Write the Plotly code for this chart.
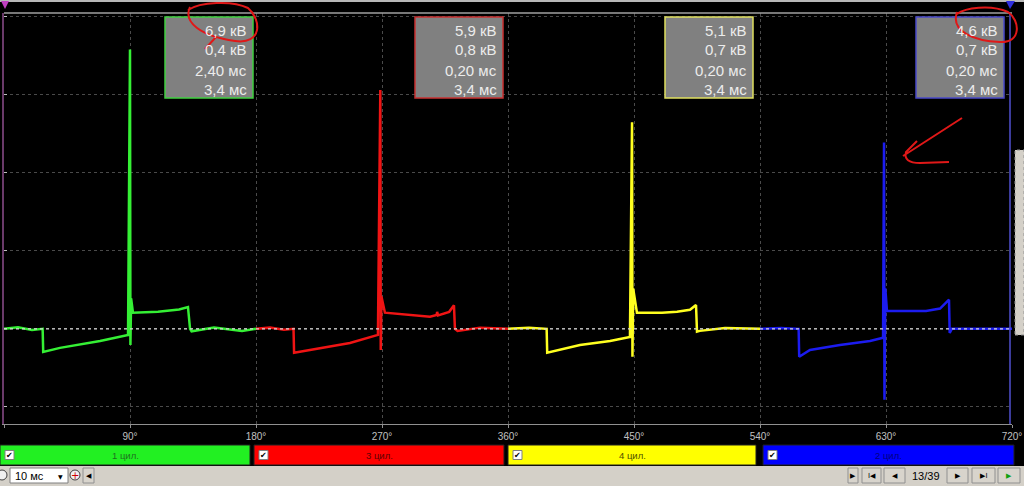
import plotly.graph_objects as go

# ---------------- data ----------------
cylinder_names = ["1 цил.", "3 цил.", "4 цил.", "2 цил."]

cyl1_deg = [0, 10, 20, 27.6, 28.0, 40, 68.6, 88.6, 90.0, 90.3, 90.8, 92.1, 110, 125, 131.4, 132.9, 134, 150, 170, 180]
cyl1_kv = [0.0, 0.04, -0.03, 0.0, -0.57, -0.47, -0.30, -0.15, 6.9, -0.40, 0.75, 0.40, 0.42, 0.48, 0.54, 0.0, -0.06, 0.03, -0.05, 0.0]

cyl3_deg = [180, 190, 200, 206.8, 207.2, 225.7, 247.1, 267.1, 268.8, 269.1, 269.6, 272.1, 290, 304.3, 309.0, 309.4, 310, 318, 321.4, 322.1, 324, 340, 360]
cyl3_kv = [0.0, 0.03, -0.02, 0.0, -0.59, -0.47, -0.35, -0.15, 5.9, -0.52, 0.8, 0.40, 0.34, 0.30, 0.34, 0.42, 0.33, 0.42, 0.58, 0.0, -0.05, 0.03, 0.0]

cyl4_deg = [360, 375, 387.6, 388.0, 411.4, 432.9, 447.1, 448.6, 448.9, 449.4, 452.1, 470, 480.7, 490, 494.3, 495.0, 497, 515, 540]
cyl4_kv = [0.0, 0.03, 0.0, -0.59, -0.40, -0.30, -0.20, 5.1, -0.69, 1.0, 0.40, 0.40, 0.42, 0.47, 0.59, -0.07, -0.05, 0.02, 0.0]

cyl2_deg = [540, 555, 567.6, 568.0, 575.7, 597.1, 618.6, 627.9, 628.6, 628.9, 629.5, 630.7, 658.6, 668.6, 675.0, 675.5, 677, 700, 720]
cyl2_kv = [0.0, 0.02, 0.0, -0.69, -0.52, -0.40, -0.30, -0.22, 4.6, -1.75, 1.0, 0.44, 0.44, 0.50, 0.72, -0.10, 0.0, 0.0, 0.0]

peak_kv_text = ["6,9 кВ", "5,9 кВ", "5,1 кВ", "4,6 кВ"]
burn_kv_text = ["0,4 кВ", "0,8 кВ", "0,7 кВ", "0,7 кВ"]
time1_text = ["2,40 мс", "0,20 мс", "0,20 мс", "0,20 мс"]
time2_text = ["3,4 мс", "3,4 мс", "3,4 мс", "3,4 мс"]

x_tick_vals = [0, 90, 180, 270, 360, 450, 540, 630, 720]
x_tick_text = ["0°", "90°", "180°", "270°", "360°", "450°", "540°", "630°", "720°"]

# ---------------- style ----------------
W, H = 1024, 486          # reference pixel grid
FIG_W = 1034              # rendered width (page is shown about 1% narrower)
trace_colors = ["#35f035", "#f01414", "#ffff20", "#1c1cf0"]
bar_colors = ["#22f022", "#ff0000", "#ffff00", "#0000ff"]
bar_text_colors = ["#207020", "#600000", "#505000", "#000080"]
box_border = ["#40d040", "#c83030", "#e0e060", "#4848c8"]


def px(x):
    return x / W


def py(y):
    return 1 - y / H


fig = go.Figure()
series = [(cyl1_deg, cyl1_kv), (cyl3_deg, cyl3_kv), (cyl4_deg, cyl4_kv), (cyl2_deg, cyl2_kv)]
for (d, v), c, n in zip(series, trace_colors, cylinder_names):
    fig.add_trace(go.Scatter(x=d, y=v, mode="lines", line=dict(color=c, width=2.5),
                             name=n, showlegend=False, hoverinfo="skip"))

shapes = []
annotations = []

# top window strip and border line
shapes.append(dict(type="rect", xref="paper", yref="paper", x0=0, x1=1, y0=py(2), y1=1,
                   fillcolor="#b8b8b8", line=dict(width=0), layer="below"))
shapes.append(dict(type="line", xref="paper", yref="paper", x0=px(4), x1=px(1012), y0=py(13), y1=py(13),
                   line=dict(color="#a0a0a0", width=1.5)))
# right blue border
shapes.append(dict(type="line", xref="paper", yref="paper", x0=px(1010), x1=px(1010), y0=py(13), y1=py(424),
                   line=dict(color="#5050d0", width=1.5)))
# markers
shapes.append(dict(type="path", xref="paper", yref="paper",
                   path=f"M {px(1)} {py(1)} L {px(9)} {py(1)} L {px(5)} {py(9)} Z",
                   fillcolor="#c040c0", line=dict(width=0)))
shapes.append(dict(type="path", xref="paper", yref="paper",
                   path=f"M {px(1006)} {py(1)} L {px(1015)} {py(1)} L {px(1010)} {py(9)} Z",
                   fillcolor="#3030e0", line=dict(width=0)))
# right scroll panel
shapes.append(dict(type="rect", xref="paper", yref="paper", x0=px(1015), x1=1, y0=py(335), y1=py(150),
                   fillcolor="#d4d0c8", line=dict(color="#909090", width=1, dash="dot")))

# zero line (dotted white)
shapes.append(dict(type="line", xref="x", yref="y", x0=0, x1=720, y0=0, y1=0,
                   line=dict(color="#d8d8d8", width=1.2, dash="dot"), layer="above"))

# info boxes
box_left = [165, 415, 665, 916]
for i in range(4):
    x0, x1 = box_left[i], box_left[i] + 88
    shapes.append(dict(type="rect", xref="paper", yref="paper", x0=px(x0), x1=px(x1), y0=py(98), y1=py(17),
                       fillcolor="#808080", line=dict(color=box_border[i], width=1.5)))
    for txt, yy in zip([peak_kv_text[i], burn_kv_text[i], time1_text[i], time2_text[i]], [30, 50, 70, 89]):
        annotations.append(dict(xref="paper", yref="paper", x=px(x1 - 4), y=py(yy), text=txt,
                                showarrow=False, xanchor="right", yanchor="middle",
                                font=dict(family="Liberation Sans", size=15, color="#ececec")))

# red hand-drawn marks
def pth(points):
    s = ""
    for cmd, pts in points:
        s += cmd + " " + " ".join(f"{px(a)} {py(b)}" for a, b in pts) + " "
    return s.strip()

circle1 = pth([("M", [(190, 7)]),
               ("C", [(183, 22), (200, 36), (235, 41)]),
               ("C", [(262, 45), (262, 20), (248, 8)]),
               ("C", [(232, 0), (200, 2), (188, 10)]),
               ("M", [(216, 37)]), ("L", [(205, 49)])])
circle2 = pth([("M", [(957, 12)]),
               ("C", [(950, 32), (975, 41), (1000, 42)]),
               ("C", [(1022, 43), (1020, 20), (1008, 12)]),
               ("C", [(990, 4), (965, 8), (957, 14)])])
arrow = pth([("M", [(962, 118)]), ("L", [(903, 156)]),
             ("M", [(917, 141)]), ("L", [(906, 152)]),
             ("Q", [(903, 163), (920, 163)]), ("L", [(949, 162)])])
for p in [circle1, circle2, arrow]:
    shapes.append(dict(type="path", xref="paper", yref="paper", path=p,
                       line=dict(color="#e01818", width=2)))

# bottom cylinder bars
bar_x = [(0, 250), (254, 504), (508, 756), (763, 1014)]
for i, (a, b) in enumerate(bar_x):
    shapes.append(dict(type="rect", xref="paper", yref="paper", x0=px(a), x1=px(b), y0=py(465), y1=py(445),
                       fillcolor=bar_colors[i], line=dict(color="#202020", width=1)))
    shapes.append(dict(type="rect", xref="paper", yref="paper", x0=px(a + 5), x1=px(a + 14), y0=py(459.5), y1=py(450.5),
                       fillcolor="#ffffff", line=dict(color="#808080", width=1)))
    annotations.append(dict(xref="paper", yref="paper", x=px(a + 9.5), y=py(455), text="✔", showarrow=False,
                            xanchor="center", yanchor="middle",
                            font=dict(family="DejaVu Sans", size=8, color="#000000")))
    annotations.append(dict(xref="paper", yref="paper", x=px((a + b) / 2), y=py(455), text=cylinder_names[i],
                            showarrow=False, xanchor="center", yanchor="middle",
                            font=dict(family="Liberation Sans", size=9.5, color=bar_text_colors[i])))

# bottom toolbar
shapes.append(dict(type="rect", xref="paper", yref="paper", x0=0, x1=1, y0=0, y1=py(466),
                   fillcolor="#d4d0c8", line=dict(width=0)))
shapes.append(dict(type="circle", xref="paper", yref="paper", x0=px(-3), x1=px(7), y0=py(480), y1=py(470),
                   fillcolor="#f0f0f0", line=dict(color="#404040", width=1)))
shapes.append(dict(type="rect", xref="paper", yref="paper", x0=px(10), x1=px(68), y0=py(483), y1=py(468),
                   fillcolor="#ffffff", line=dict(color="#808080", width=1)))
annotations.append(dict(xref="paper", yref="paper", x=px(13), y=py(475.5), text="10 мс", showarrow=False,
                        xanchor="left", yanchor="middle", font=dict(family="Liberation Sans", size=11, color="#000")))
annotations.append(dict(xref="paper", yref="paper", x=px(60), y=py(476), text="▼", showarrow=False,
                        xanchor="center", yanchor="middle", font=dict(family="DejaVu Sans", size=6, color="#000")))
shapes.append(dict(type="circle", xref="paper", yref="paper", x0=px(70), x1=px(80), y0=py(480), y1=py(470),
                   fillcolor="#f0f0f0", line=dict(color="#404040", width=1)))
annotations.append(dict(xref="paper", yref="paper", x=px(75), y=py(475), text="+", showarrow=False,
                        xanchor="center", yanchor="middle", font=dict(family="DejaVu Sans", size=10, color="#d00000")))

buttons = [(83, 94, "◀", "#000"), (848, 858, "▶", "#000"), (862, 881, "I◀", "#000"), (884, 905, "◀", "#000"),
           (947, 968, "▶", "#000"), (972, 995, "▶I", "#000"), (998, 1020, "▶", "#10a010")]
for a, b, t, c in buttons:
    shapes.append(dict(type="rect", xref="paper", yref="paper", x0=px(a), x1=px(b), y0=py(483), y1=py(468),
                       fillcolor="#d8d4cc", line=dict(color="#909090", width=1)))
    annotations.append(dict(xref="paper", yref="paper", x=px((a + b) / 2), y=py(475.5), text=t, showarrow=False,
                            xanchor="center", yanchor="middle", font=dict(family="DejaVu Sans", size=7, color=c)))
annotations.append(dict(xref="paper", yref="paper", x=px(926), y=py(475.5), text="13/39", showarrow=False,
                        xanchor="center", yanchor="middle", font=dict(family="Liberation Sans", size=11, color="#000")))

fig.update_layout(
    width=FIG_W, height=H, autosize=False,
    margin=dict(l=0, r=0, t=0, b=0),
    paper_bgcolor="#000000", plot_bgcolor="#000000",
    shapes=shapes, annotations=annotations,
    showlegend=False,
    xaxis=dict(domain=[px(4), px(1012)], range=[0, 720], tickmode="array", tickvals=x_tick_vals,
               ticktext=x_tick_text, showgrid=True, gridcolor="#4a4a4a", griddash="dot", gridwidth=1,
               zeroline=False, showline=True, linecolor="#909090", linewidth=1, ticks="outside",
               ticklen=3, tickcolor="#909090",
               tickfont=dict(family="Liberation Sans", size=10, color="#c0c0c0")),
    yaxis=dict(domain=[py(424), py(13)], range=[-2.35, 7.80], dtick=1.93, tick0=0, showgrid=True,
               gridcolor="#4a4a4a", griddash="dot", zeroline=False, showticklabels=False,
               showline=True, linecolor="#6a3a6a", linewidth=1.5, ticks="inside", ticklen=3,
               tickcolor="#c0c0c0"),
)

post = (
    "document.documentElement.style.margin='0';document.body.style.margin='0';"
    "document.documentElement.style.overflow='hidden';document.body.style.overflow='hidden';"
    "document.body.style.background='#000';"
)
fig.write_html("out.html", config={"displayModeBar": False, "responsive": False}, post_script=post)
